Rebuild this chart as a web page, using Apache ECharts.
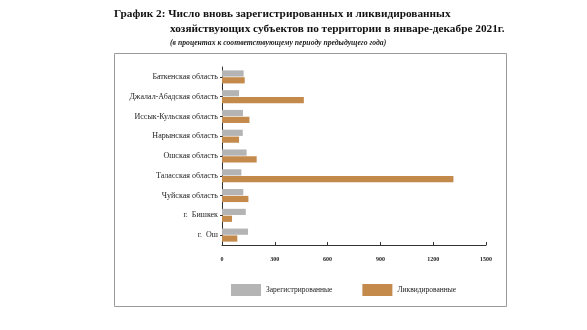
<!DOCTYPE html>
<html><head><meta charset="utf-8">
<script src="https://cdn.jsdelivr.net/npm/echarts@6/dist/echarts.min.js"></script>
<style>html,body{margin:0;padding:0;background:#fff}#c{width:587px;height:330px}</style>
</head><body><div id="c"></div>
<script>
var categories = ["Баткенская область","Джалал-Абадская область","Иссык-Кульская область","Нарынская область","Ошская область","Таласская область","Чуйская область","г.  Бишкек","г.  Ош"];
var registered = [123, 97, 119, 118, 140, 110, 121, 135, 148];
var liquidated = [129, 465, 156, 97, 197, 1315, 150, 57, 87];
var xTicks = [0, 300, 600, 900, 1200, 1500];
var seriesNames = ["Зарегистрированные", "Ликвидированные"];
var titleLine1 = "График 2: Число вновь зарегистрированных и ликвидированных";
var titleLine2 = "хозяйствующих субъектов по территории в январе-декабре 2021г.";
var subtitle = "(в процентах к соответствующему периоду предыдущего года)";

var serif = "Liberation Serif";
var chart = echarts.init(document.getElementById('c'));
chart.setOption({
  animation: false,
  graphic: [
    {type:'rect', shape:{x:114.5, y:53.5, width:392, height:253}, style:{fill:'none', stroke:'#9a9a9a', lineWidth:1}},
    {type:'text', left:114, top:9, style:{text:titleLine1, font:'bold 11.3px "Liberation Serif"', fill:'#111'}},
    {type:'text', left:170, top:24, style:{text:titleLine2, font:'bold 11.3px "Liberation Serif"', fill:'#111'}},
    {type:'text', left:170, top:39.5, style:{text:subtitle, font:'italic bold 7.7px "Liberation Serif"', fill:'#222'}}
  ],
  legend: {
    left: 226, top: 279, itemWidth: 30, itemHeight: 12, itemGap: 30,
    icon: 'rect',
    textStyle: {fontFamily: serif, fontSize: 7.5, color: '#222'},
    data: seriesNames
  },
  grid: {left: 222, top: 67, width: 264, height: 178, containLabel: false},
  xAxis: {
    type: 'value', min: xTicks[0], max: xTicks[xTicks.length-1], interval: 300,
    splitLine: {show: false},
    axisLine: {show: true, lineStyle: {color: '#333', width: 1}},
    axisTick: {show: true, inside: true, length: 3, lineStyle: {color: '#333'}},
    axisLabel: {fontFamily: serif, fontSize: 6, fontWeight: 'bold', color: '#222', margin: 11,
      formatter: function(v){ return String(v); }}
  },
  yAxis: {
    type: 'category', data: categories, inverse: true,
    axisLine: {show: true, lineStyle: {color: '#333', width: 1}},
    axisTick: {show: true, alignWithLabel: true, length: 2, lineStyle: {color: '#333'}},
    axisLabel: {fontFamily: serif, fontSize: 8, color: '#222', margin: 4}
  },
  series: [
    {name: seriesNames[0], type: 'bar', data: registered, itemStyle: {color: '#b4b4b4'}, barGap: '10%', barCategoryGap: '34%'},
    {name: seriesNames[1], type: 'bar', data: liquidated, itemStyle: {color: '#c48a4c'}, barGap: '10%', barCategoryGap: '34%'}
  ]
});
</script></body></html>
